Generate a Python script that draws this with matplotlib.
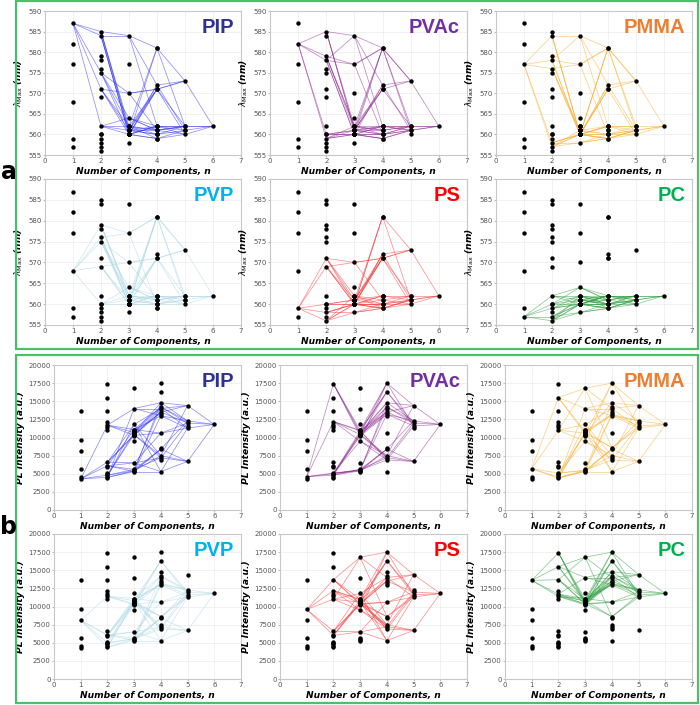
import itertools
import matplotlib
matplotlib.use("Agg")
import matplotlib.pyplot as plt
from matplotlib.patches import Rectangle

# polymers in mixture order
polymers = ["PIP", "PVAc", "PMMA", "PVP", "PS", "PC"]
line_colors = ["#3333EE", "#8E2A92", "#F7AE30", "#A9D6E5", "#F23A3A", "#2E9E3E"]
label_colors = ["#2E3192", "#7030A0", "#ED7D31", "#00B0F0", "#FF0000", "#00B050"]

# emission maximum (nm) per mixture, combinations in itertools order
lam_n1 = [587, 582, 577, 568, 559, 557]
lam_n2 = [585, 584, 575, 571, 562, 578, 579, 560, 559, 576, 558, 557, 569, 560, 556]
lam_n3 = [584, 562, 561, 561, 560, 560, 560, 570, 564, 562,
          577, 560, 560, 561, 562, 560, 560, 561, 558, 560]
lam_n4 = [581, 572, 562, 571, 561, 560, 571, 562, 559, 561, 581, 560, 559, 562, 560]
lam_n5 = [573, 562, 561, 562, 560, 561]
lam_n6 = [562]

# PL intensity (a.u.) per mixture
pl_n1 = [4300, 4600, 5700, 8100, 9600, 13600]
pl_n2 = [4800, 4500, 6100, 6600, 11700, 5100, 5000, 12200, 17400,
         4400, 11000, 15500, 6000, 11400, 13700]
pl_n3 = [5400, 5600, 10400, 10700, 5300, 11800, 14000, 6500, 11100, 10300,
         5500, 9500, 10500, 10900, 10200, 11000, 10600, 10800, 16800, 10400]
pl_n4 = [8400, 7500, 14800, 7200, 14200, 13500, 5300, 13000, 14000, 10600,
         6900, 13200, 17500, 16300, 8600]
pl_n5 = [6700, 12300, 14400, 12000, 11300, 11600]
pl_n6 = [11800]

lam_values = [lam_n1, lam_n2, lam_n3, lam_n4, lam_n5, lam_n6]
pl_values = [pl_n1, pl_n2, pl_n3, pl_n4, pl_n5, pl_n6]

combos = [list(itertools.combinations(range(6), n)) for n in range(1, 7)]

W, H = 700, 705
fig = plt.figure(figsize=(W / 100, H / 100), dpi=100)


def px_axes(x0, y0, x1, y1):
    return fig.add_axes([x0 / W, 1 - y1 / H, (x1 - x0) / W, (y1 - y0) / H])


def draw_panel(ax, k, values, ylim, yticks, ylabel):
    for n in range(5):
        lo = dict(zip(combos[n], values[n]))
        hi = dict(zip(combos[n + 1], values[n + 1]))
        for c, v in lo.items():
            if k not in c:
                continue
            for d, w in hi.items():
                if set(c) <= set(d):
                    ax.plot([n + 1, n + 2], [v, w], color=line_colors[k],
                            lw=0.55, alpha=0.55, zorder=2)
    for n in range(6):
        ax.scatter([n + 1] * len(values[n]), values[n], s=10, color="black",
                   zorder=3, linewidths=0)
    ax.set_xlim(0, 7)
    ax.set_ylim(*ylim)
    ax.set_xticks(range(8))
    ax.set_yticks(yticks)
    ax.grid(True, color="#ebebeb", lw=0.5)
    ax.set_axisbelow(True)
    ax.tick_params(labelsize=5, labelcolor="#555555", length=1.5,
                   color="#bbbbbb", pad=1)
    for s in ax.spines.values():
        s.set_color("#c8c8c8")
        s.set_linewidth(0.8)
    ax.set_xlabel("Number of Components, n", fontsize=6.6, fontweight="bold",
                  style="italic", labelpad=2)
    ax.set_ylabel(ylabel, fontsize=6.6, fontweight="bold", style="italic",
                  labelpad=2)
    ax.text(0.965, 0.95, polymers[k], transform=ax.transAxes, ha="right",
            va="top", fontsize=14.5, fontweight="bold", color=label_colors[k],
            family="Liberation Sans")


cols_a = [(45, 241), (270, 467), (496, 692)]
cols_b = [(54, 241), (280, 467), (505, 692)]
rows_a = [(11, 155), (179, 325)]
rows_b = [(365, 510), (534, 679)]

lam_label = r"$\lambda_{\mathrm{Max}}$ (nm)"
for k in range(6):
    r, c = divmod(k, 3)
    ax = px_axes(cols_a[c][0], rows_a[r][0], cols_a[c][1], rows_a[r][1])
    draw_panel(ax, k, lam_values, (555, 590), range(555, 591, 5), lam_label)
    ax = px_axes(cols_b[c][0], rows_b[r][0], cols_b[c][1], rows_b[r][1])
    draw_panel(ax, k, pl_values, (0, 20000), range(0, 20001, 2500),
               "PL Intensity (a.u.)")

# section frames and letters
box_color = "#4CBF6B"
for (x0, y0, x1, y1) in [(16, 1, 698, 349), (16, 355, 698, 703)]:
    fig.patches.append(Rectangle((x0 / W, 1 - y1 / H), (x1 - x0) / W,
                                 (y1 - y0) / H, transform=fig.transFigure,
                                 fill=False, edgecolor=box_color, lw=1.6))
fig.text(9 / W, 1 - 172 / H, "a", fontsize=17, fontweight="bold",
         ha="center", va="center")
fig.text(9 / W, 1 - 527 / H, "b", fontsize=17, fontweight="bold",
         ha="center", va="center")

fig.savefig("out.png", dpi=100)
